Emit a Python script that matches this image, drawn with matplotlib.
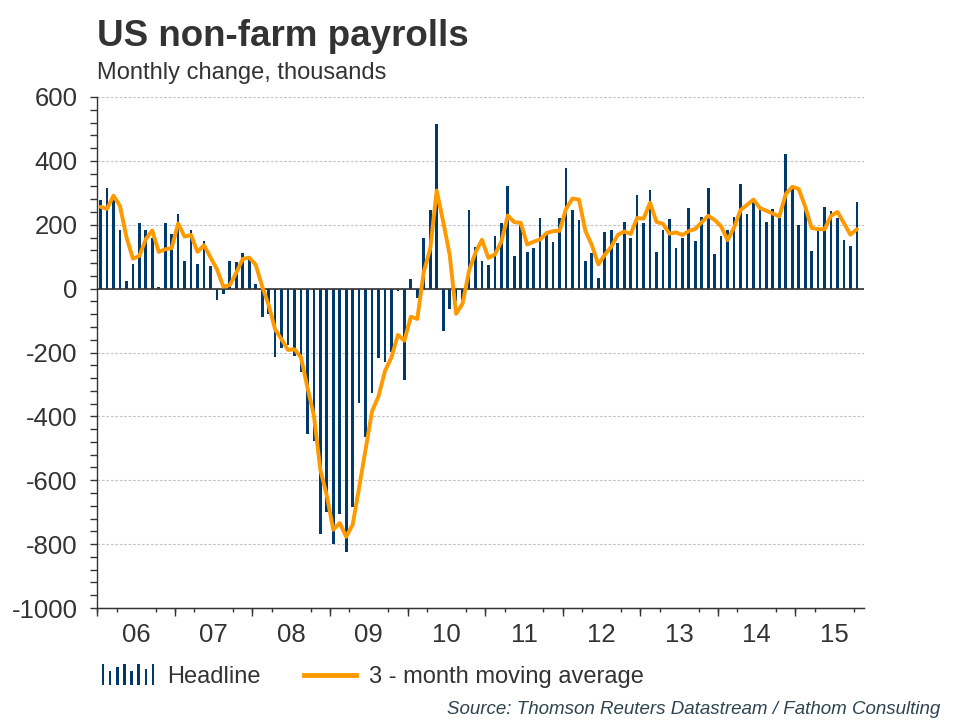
import matplotlib
matplotlib.use("Agg")
import matplotlib.pyplot as plt
from matplotlib.legend_handler import HandlerBase
from matplotlib.patches import Rectangle
from matplotlib.lines import Line2D
from matplotlib.ticker import MultipleLocator

plt.rcParams['font.family'] = ['Liberation Sans', 'DejaVu Sans']
plt.rcParams['axes.unicode_minus'] = False

# Year labels (2006 - 2015), monthly data Jan 2006 - Oct 2015
years = ['06', '07', '08', '09', '10', '11', '12', '13', '14', '15']

# Monthly change in payrolls, thousands
headline = [
    278, 315, 281, 182, 24, 77, 206, 183, 157, 5, 207, 170,            # 2006
    235, 85, 185, 76, 148, 70, -36, -16, 85, 82, 113, 97,              # 2007
    14, -89, -78, -215, -185, -175, -211, -260, -455, -477, -768, -699,  # 2008
    -799, -705, -826, -685, -358, -466, -327, -217, -229, -198, -7, -285,  # 2009
    29, -30, 160, 245, 517, -132, -64, -40, -37, 245, 130, 85,         # 2010
    73, 164, 204, 320, 101, 198, 115, 127, 220, 175, 145, 222,         # 2011
    379, 245, 214, 85, 110, 32, 176, 185, 142, 210, 160, 292,          # 2012
    204, 310, 114, 185, 217, 126, 160, 254, 148, 223, 314, 107,        # 2013
    164, 185, 223, 329, 235, 273, 248, 210, 248, 220, 420, 318,        # 2014
    198, 255, 117, 185, 257, 242, 221, 151, 135, 271,                  # 2015
]

# 3-month moving average as drawn on the chart
moving_avg = [
    256, 250, 291, 259, 162, 94, 102, 155, 182, 115, 123, 127,
    204, 163, 168, 115, 136, 98, 61, 6, 11, 50, 93, 97,
    75, 7, -51, -127, -159, -192, -190, -215, -309, -397, -567, -648,
    -755, -734, -777, -739, -623, -503, -384, -337, -258, -215, -145, -163,
    -88, -95, 53, 125, 307, 210, 107, -79, -47, 56, 113, 153,
    96, 107, 147, 229, 208, 206, 138, 147, 154, 174, 180, 181,
    249, 282, 279, 181, 136, 76, 106, 131, 168, 179, 171, 221,
    219, 269, 209, 203, 172, 176, 168, 180, 187, 208, 228, 215,
    195, 152, 191, 246, 262, 279, 252, 244, 235, 226, 296, 319,
    312, 257, 190, 186, 186, 228, 240, 205, 169, 186,
]

NAVY = '#003a6c'
ORANGE = '#ff9900'
DARK = '#333333'

months = list(range(len(headline)))


class BarIconHandler(HandlerBase):
    # little "ılılıl" icon used for the bar series in the legend
    def create_artists(self, legend, orig_handle, xdescent, ydescent,
                       width, height, fontsize, trans):
        heights = [1.0, 0.7, 0.85, 1.0, 0.7, 1.0, 0.75, 1.0]
        n = len(heights)
        bw = width * 0.045
        step = (width - bw) / (n - 1)
        full = height * 1.25
        y0 = -ydescent - height * 0.12
        arts = []
        for k, h in enumerate(heights):
            r = Rectangle((-xdescent + k * step, y0), bw, full * h,
                          facecolor=NAVY, edgecolor='none', transform=trans)
            arts.append(r)
        return arts


fig = plt.figure(figsize=(9.6, 7.2), dpi=100)
ax = fig.add_axes([97 / 960, 1 - 608 / 720, (864 - 97) / 960, (608 - 97) / 720])

bars = ax.bar(months, headline, width=0.42, color=NAVY, zorder=2)
ax.axhline(0, color=DARK, lw=1.2, zorder=2.5)
line, = ax.plot(months, moving_avg, color=ORANGE, lw=2.8, zorder=3,
                solid_joinstyle='round', solid_capstyle='round')

ax.set_ylim(-1000, 600)
ax.set_xlim(-0.55, 118.1)

# y axis
ax.yaxis.set_major_locator(MultipleLocator(200))
ax.yaxis.set_minor_locator(MultipleLocator(40))
ax.tick_params(axis='y', which='both', direction='out', length=5, width=1,
               color=DARK, labelsize=18.5, labelcolor=DARK, pad=9)
ax.grid(axis='y', which='major', color='#c4c4c4', ls=(0, (2.5, 1.5)), lw=0.8)
ax.set_axisbelow(True)

# x axis: year labels centred, quarterly minor ticks, longer ticks at year bounds
ax.set_xticks([12 * k + 5.5 for k in range(len(years))], labels=years)
ax.set_xticks([3 * q - 0.5 for q in range(4 * len(years))], minor=True)
ax.tick_params(axis='x', which='major', length=0, labelsize=18.5,
               labelcolor=DARK, pad=11)
ax.tick_params(axis='x', which='minor', direction='out', length=3, width=1,
               color=DARK)
secax = ax.secondary_xaxis('bottom')
secax.set_xticks([12 * k - 0.5 for k in range(len(years) + 1)], labels=[])
secax.tick_params(length=6, width=1, color=DARK)
secax.spines['bottom'].set_color(DARK)

for side in ['top', 'right']:
    ax.spines[side].set_visible(False)
for side in ['left', 'bottom']:
    ax.spines[side].set_color(DARK)
    ax.spines[side].set_linewidth(1)

# titles
fig.text(97 / 960, 1 - 46 / 720, 'US non-farm payrolls', fontsize=26.5,
         fontweight='bold', color=DARK, va='baseline', ha='left')
fig.text(97 / 960, 1 - 79 / 720, 'Monthly change, thousands', fontsize=17,
         color=DARK, va='baseline', ha='left')

# legend
fig.legend([bars, Line2D([], [], color=ORANGE, lw=3.5)],
           ['Headline', '3 - month moving average'],
           handler_map={type(bars): BarIconHandler()},
           loc='center left', bbox_to_anchor=(102 / 960, 1 - 677 / 720),
           ncol=2, frameon=False, fontsize=17, labelcolor=DARK,
           handlelength=2.2, handletextpad=0.55, columnspacing=1.85,
           borderpad=0, borderaxespad=0)

# source
fig.text(940 / 960, 1 - 714 / 720,
         'Source: Thomson Reuters Datastream / Fathom Consulting',
         fontsize=13.5, style='italic', color='#2e4350', ha='right',
         va='baseline')

fig.savefig('out.png', dpi=100)
